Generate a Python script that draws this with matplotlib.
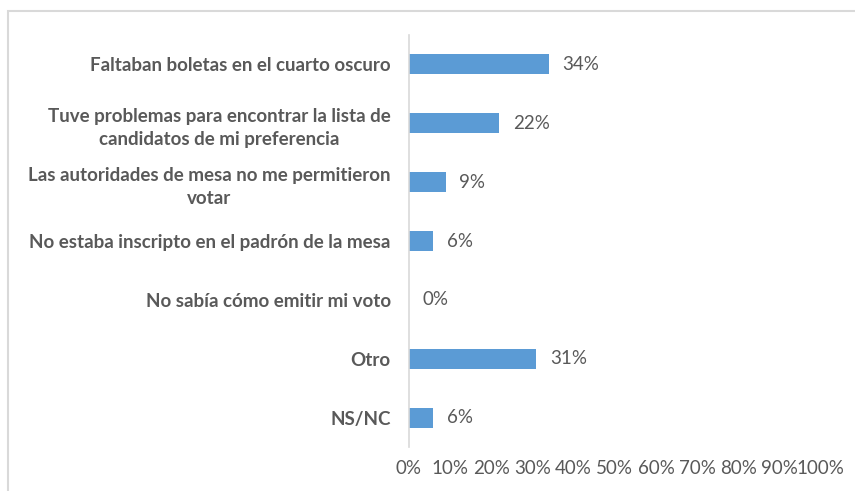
import matplotlib
matplotlib.use("Agg")
import matplotlib.pyplot as plt
from matplotlib.patches import Rectangle
import numpy as np

plt.rcParams['font.family'] = ['Lato', 'DejaVu Sans']

categories = [
    "Faltaban boletas en el cuarto oscuro",
    "Tuve problemas para encontrar la lista de\ncandidatos de mi preferencia",
    "Las autoridades de mesa no me permitieron\nvotar",
    "No estaba inscripto en el padrón de la mesa",
    "No sabía cómo emitir mi voto",
    "Otro",
    "NS/NC",
]
values = [34, 22, 9, 6, 0, 31, 6]
ticks = list(range(0, 101, 10))

grey = "#595959"
bar_color = "#5B9BD5"

fig = plt.figure(figsize=(8.55, 4.91), dpi=100)
ax = fig.add_axes([0.478, 0.0896, 0.482, 0.8391])

# chart area border (only top and left visible)
fig.patches.append(Rectangle((7.5 / 855, -0.1), 1.2, 1 - 10.5 / 491 + 0.1,
                             transform=fig.transFigure, fill=False,
                             edgecolor="#D9D9D9", linewidth=1.5))

y = np.arange(len(categories))
ax.barh(y, values, height=0.34, color=bar_color)
ax.set_ylim(len(categories) - 0.5, -0.5)
ax.set_xlim(0, 100)

for yi, v in zip(y, values):
    ax.text(v + 3.3, yi, f"{v}%", va="center", ha="left", fontsize=13.5, color=grey)

ax.set_yticks(y)
ax.set_yticklabels(categories, fontsize=13.5, fontweight="bold", color=grey,
                   multialignment="center", linespacing=1.45)
ax.set_xticks(ticks)
ax.set_xticklabels([f"{t}%" for t in ticks], fontsize=13.5, color=grey)
ax.tick_params(axis="y", length=0, pad=13)
ax.tick_params(axis="x", length=0, pad=9)

for s in ["top", "right", "bottom"]:
    ax.spines[s].set_visible(False)
ax.spines["left"].set_color("#D9D9D9")
ax.spines["left"].set_linewidth(1.2)

fig.savefig("out.png", dpi=100)
